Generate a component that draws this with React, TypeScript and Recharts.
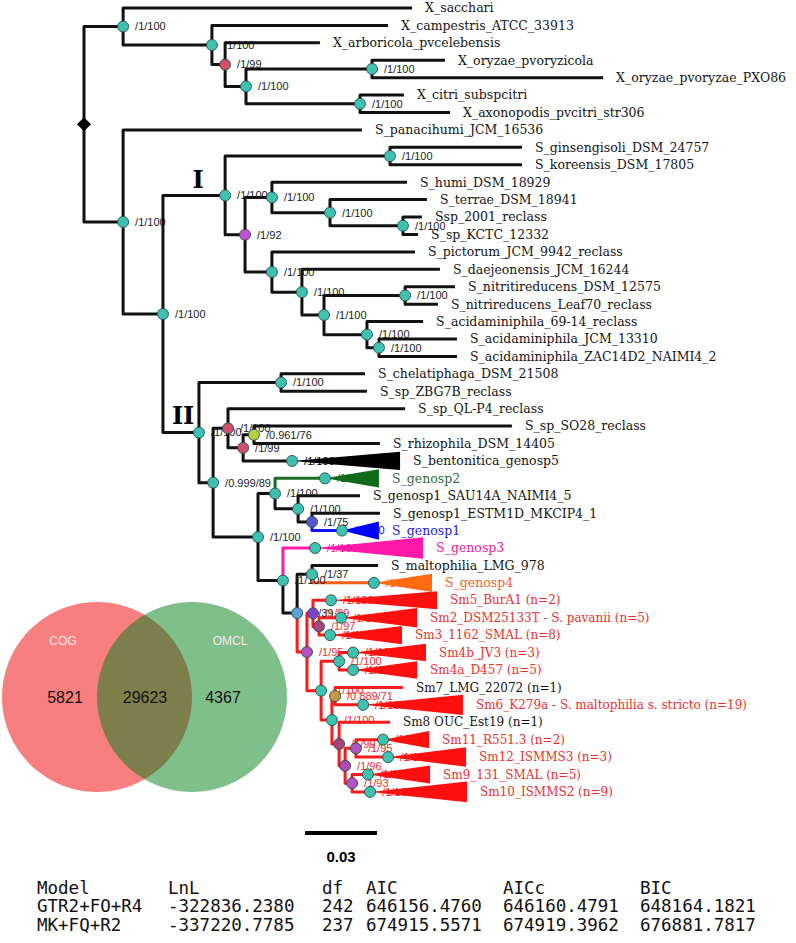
import React from 'react';
import { ComposedChart, Line, Area, Scatter, XAxis, YAxis, PieChart, Pie, Cell } from 'recharts';

// ---------------- data ----------------
// internal nodes: id, parent, depth (subst./site), support, node colour key, branch colour key
const internalNodes: [string, string, number, string, string, string][] = [
  ['R', '', 0, '', 'root', 'k'],
  ['NX', 'R', 0.0163, '/1/100', 't', 'k'],
  ['N2', 'NX', 0.0533, '/1/100', 't', 'k'],
  ['N3', 'N2', 0.0588, '/1/99', 'rd', 'k'],
  ['N4', 'N3', 0.0675, '/1/100', 't', 'k'],
  ['N5', 'N4', 0.12, '/1/100', 't', 'k'],
  ['N6', 'N4', 0.115, '/1/100', 't', 'k'],
  ['NS', 'R', 0.0163, '/1/100', 't', 'k'],
  ['N7', 'NS', 0.0329, '/1/100', 't', 'k'],
  ['NI', 'N7', 0.0588, '/1/100', 't', 'k'],
  ['N8', 'NI', 0.1275, '/1/100', 't', 'k'],
  ['N9', 'NI', 0.0671, '/1/92', 'pu', 'k'],
  ['N10', 'N9', 0.0783, '/1/100', 't', 'k'],
  ['N12', 'N10', 0.1025, '/1/100', 't', 'k'],
  ['N13', 'N12', 0.1329, '/1/100', 't', 'k'],
  ['N11', 'N9', 0.0783, '/1/100', 't', 'k'],
  ['N14', 'N11', 0.0908, '/1/100', 't', 'k'],
  ['N15', 'N14', 0.1, '/1/100', 't', 'k'],
  ['N16', 'N15', 0.1338, '/1/100', 't', 'k'],
  ['N17', 'N15', 0.1179, '/1/100', 't', 'k'],
  ['N18', 'N17', 0.1229, '/1/100', 't', 'k'],
  ['NII', 'N7', 0.0479, '/1/100', 't', 'k'],
  ['N19', 'NII', 0.0821, '/1/100', 't', 'k'],
  ['N20', 'NII', 0.0538, '/0.999/89', 't', 'k'],
  ['N21', 'N20', 0.06, '/1/100', 'rd', 'k'],
  ['N23', 'N21', 0.0663, '/1/99', 'rd', 'k'],
  ['N24', 'N23', 0.0708, '/0.961/76', 'yg', 'k'],
  ['N22', 'N20', 0.0725, '/1/100', 't', 'k'],
  ['N25', 'N22', 0.0796, '/1/100', 't', 'k'],
  ['N27', 'N25', 0.0892, '/1/100', 't', 'k'],
  ['N28', 'N27', 0.095, '/1/75', 'sb', 'k'],
  ['N26', 'N22', 0.0829, '/1/100', 't', 'k'],
  ['N29', 'N26', 0.0888, '/1/39', 'st', 'k'],
  ['N30', 'N29', 0.095, '/1/37', 't', 'k'],
  ['N31', 'N29', 0.0929, '/1/95', 'pu2', 'r'],
  ['N32', 'N31', 0.0954, '/1/89', 'vi', 'r'],
  ['N34', 'N32', 0.0979, '/1/97', 'dm', 'r'],
  ['N33', 'N31', 0.0988, '/1/100', 't', 'r'],
  ['N35', 'N33', 0.1063, '/1/100', 't', 'r'],
  ['N36', 'N33', 0.1033, '/1/100', 't', 'r'],
  ['N37', 'N36', 0.1046, '/0.889/71', 'br', 'r'],
  ['N38', 'N36', 0.1063, '/1/99', 'dm', 'r'],
  ['N39', 'N38', 0.1088, '/1/96', 'mg', 'r'],
  ['N40', 'N39', 0.1133, '/1/95', 'pu2', 'r'],
  ['N41', 'N39', 0.1117, '/1/93', 'pu2', 'r'],
];

const leafNames = [
  'X_sacchari', 'X_campestris_ATCC_33913', 'X_arboricola_pvcelebensis', 'X_oryzae_pvoryzicola',
  'X_oryzae_pvoryzae_PXO86', 'X_citri_subspcitri', 'X_axonopodis_pvcitri_str306', 'S_panacihumi_JCM_16536',
  'S_ginsengisoli_DSM_24757', 'S_koreensis_DSM_17805', 'S_humi_DSM_18929', 'S_terrae_DSM_18941',
  'Ssp_2001_reclass', 'S_sp_KCTC_12332', 'S_pictorum_JCM_9942_reclass', 'S_daejeonensis_JCM_16244',
  'S_nitritireducens_DSM_12575', 'S_nitrireducens_Leaf70_reclass', 'S_acidaminiphila_69-14_reclass',
  'S_acidaminiphila_JCM_13310', 'S_acidaminiphila_ZAC14D2_NAIMI4_2', 'S_chelatiphaga_DSM_21508',
  'S_sp_ZBG7B_reclass', 'S_sp_QL-P4_reclass', 'S_sp_SO28_reclass', 'S_rhizophila_DSM_14405',
  'S_bentonitica_genosp5', 'S_genosp2', 'S_genosp1_SAU14A_NAIMI4_5', 'S_genosp1_ESTM1D_MKCIP4_1',
  'S_genosp1', 'S_genosp3', 'S_maltophilia_LMG_978', 'S_genosp4', 'Sm5_BurA1 (n=2)',
  'Sm2_DSM25133T - S. pavanii (n=5)', 'Sm3_1162_SMAL (n=8)', 'Sm4b_JV3 (n=3)', 'Sm4a_D457 (n=5)',
  'Sm7_LMG_22072 (n=1)', 'Sm6_K279a - S. maltophilia s. stricto (n=19)', 'Sm8 OUC_Est19 (n=1)',
  'Sm11_R551.3 (n=2)', 'Sm12_ISMMS3 (n=3)', 'Sm9_131_SMAL (n=5)', 'Sm10_ISMMS2 (n=9)',
];
const leafParents = [
  'NX', 'N2', 'N3', 'N5', 'N5', 'N6', 'N6', 'NS', 'N8', 'N8', 'N10', 'N12', 'N13', 'N13', 'N11', 'N14',
  'N16', 'N16', 'N17', 'N18', 'N18', 'N19', 'N19', 'N21', 'N24', 'N24', 'N23', 'N25', 'N27', 'N28',
  'N28', 'N26', 'N30', 'N30', 'N32', 'N34', 'N34', 'N35', 'N35', 'N37', 'N37', 'N38', 'N40', 'N40',
  'N41', 'N41',
];
// depth of the collapsed-clade node (null = single taxon)
const leafApex: (number | null)[] = [
  null, null, null, null, null, null, null, null, null, null, null, null, null, null, null, null,
  null, null, null, null, null, null, null, null, null, null, 0.0867, 0.1004, null, null,
  0.1075, 0.0963, null, 0.1208, 0.1029, 0.1071, 0.1025, 0.1121, 0.1121, null, 0.1163, null,
  0.1246, 0.1267, 0.1183, 0.1192,
];
const leafTips = [
  0.1367, 0.1267, 0.0983, 0.1504, 0.2163, 0.1333, 0.1525, 0.1158, 0.1825, 0.1825, 0.1346, 0.1429,
  0.1408, 0.1392, 0.1379, 0.1483, 0.1546, 0.1475, 0.1413, 0.1554, 0.1554, 0.1171, 0.1179, 0.1338,
  0.1783, 0.1233, 0.1317, 0.1229, 0.115, 0.1233, 0.1229, 0.1413, 0.1225, 0.145, 0.1471, 0.1388,
  0.1325, 0.1425, 0.1388, 0.1329, 0.1579, 0.1275, 0.1438, 0.1592, 0.1442, 0.1596,
];
// half height of the collapsed triangles (in taxon rows)
const leafHalf = [
  0, 0, 0, 0, 0, 0, 0, 0, 0, 0, 0, 0, 0, 0, 0, 0, 0, 0, 0, 0, 0, 0, 0, 0, 0, 0,
  0.52, 0.52, 0, 0, 0.52, 0.62, 0, 0.52, 0.52, 0.56, 0.52, 0.5, 0.5, 0, 0.58, 0, 0.5, 0.56, 0.52, 0.6,
];
const leafBranch = [
  'k', 'k', 'k', 'k', 'k', 'k', 'k', 'k', 'k', 'k', 'k', 'k', 'k', 'k', 'k', 'k', 'k', 'k', 'k', 'k',
  'k', 'k', 'k', 'k', 'k', 'k', 'k', 'g', 'k', 'k', 'b', 'm', 'k', 'o', 'r', 'r', 'r', 'r', 'r', 'r',
  'r', 'r', 'r', 'r', 'r', 'r',
];
const leafLabel = [
  'k', 'k', 'k', 'k', 'k', 'k', 'k', 'k', 'k', 'k', 'k', 'k', 'k', 'k', 'k', 'k', 'k', 'k', 'k', 'k',
  'k', 'k', 'k', 'k', 'k', 'k', 'k', 'g', 'k', 'k', 'b', 'm', 'k', 'o', 'r', 'r', 'r', 'r', 'r', 'k',
  'r', 'k', 'r', 'r', 'r', 'r',
];
const apexSupport = '/1/100';

const groupLabels = ['I', 'II'];
const groupX = [0.0475, 0.0413];
const groupY = [9.87, 23.42];

const scaleBarLength = 0.03;
const scaleBarStart = 0.0921;
const scaleBarRow = 47.36;
const scaleLabelRow = 48.74;

const vennSets = ['COG', 'OMCL'];
const vennCounts = [5821, 29623, 4367];

const tableHeader = ['Model', 'LnL', 'df', 'AIC', 'AICc', 'BIC'];
const tableRows = [
  ['GTR2+FO+R4', '-322836.2380', '242', '646156.4760', '646160.4791', '648164.1821'],
  ['MK+FQ+R2', '-337220.7785', '237', '674915.5571', '674919.3962', '676881.7817'],
];

// ---------------- styles ----------------
const W = 796;
const H = 943;
const PX_PER_UNIT = 2400;
const ROOT_PX = 84;
const ROW_TOP = 8;
const ROW_STEP = 17.42;
const X_DOMAIN: [number, number] = [-ROOT_PX / PX_PER_UNIT, (W - ROOT_PX) / PX_PER_UNIT];
const Y_DOMAIN: [number, number] = [-ROW_TOP / ROW_STEP, (H - ROW_TOP) / ROW_STEP];

const branchColors: Record<string, string> = {
  k: '#111111', g: '#1d6b22', b: '#1010f5', m: '#ff1aa8', o: '#f2601a', r: '#f81c1c',
};
const triColors: Record<string, string> = {
  k: '#000000', g: '#0f6a1a', b: '#0000ff', m: '#ff19a8', o: '#ff6a10', r: '#ff1010',
};
const labelColors: Record<string, string> = {
  k: '#141414', g: '#2f6e34', b: '#1a1ae6', m: '#e8199c', o: '#f0641e', r: '#e8302c',
};
const nodeColors: Record<string, string> = {
  t: '#3fc1b2', rd: '#d24f68', pu: '#c24fd2', yg: '#b6d23c', sb: '#5757c9', st: '#5aa3d8',
  vi: '#7e44c6', pu2: '#b552c4', dm: '#a8447a', br: '#c69845', mg: '#b24ab4',
};

// ---------------- tree layout ----------------
type TNode = {
  id: string; parent: string; x: number; y: number; leaf: boolean; children: string[];
  support?: string; fillKey?: string; branchKey: string; name?: string; labelKey?: string;
  tip?: number; hh?: number; apex?: number | null;
};

function buildTree() {
  const nodes: Record<string, TNode> = {};
  internalNodes.forEach(([id, parent, x, support, fillKey, branchKey]) => {
    nodes[id] = { id, parent, x, y: NaN, leaf: false, children: [], support, fillKey, branchKey };
  });
  leafNames.forEach((name, i) => {
    const id = 'L' + i;
    nodes[id] = {
      id, parent: leafParents[i], x: leafApex[i] ?? leafTips[i], y: i, leaf: true, children: [],
      branchKey: leafBranch[i], name, labelKey: leafLabel[i], tip: leafTips[i], hh: leafHalf[i], apex: leafApex[i],
    };
  });
  Object.values(nodes).forEach((n) => {
    if (n.parent) nodes[n.parent].children.push(n.id);
  });
  const setY = (id: string): number => {
    const n = nodes[id];
    if (n.leaf) return n.y;
    const ys = n.children.map(setY);
    n.y = (Math.min(...ys) + Math.max(...ys)) / 2;
    return n.y;
  };
  setY('R');
  return nodes;
}

const tree = buildTree();
const allNodes = Object.values(tree);

const branchSeries: Record<string, any[]> = {};
allNodes.forEach((n) => {
  if (!n.parent) return;
  const p = tree[n.parent];
  const arr = (branchSeries[n.branchKey] = branchSeries[n.branchKey] || []);
  arr.push({ x: p.x, y: p.y }, { x: p.x, y: n.y }, { x: n.x, y: n.y }, { x: n.x, y: null });
});

const triSeries: Record<string, any[]> = {};
allNodes.forEach((n) => {
  if (!n.leaf || n.apex == null) return;
  const arr = (triSeries[n.branchKey] = triSeries[n.branchKey] || []);
  arr.push(
    { x: n.apex, r: [n.y, n.y] },
    { x: n.tip, r: [n.y - (n.hh || 0.5), n.y + (n.hh || 0.5)] },
    { x: n.tip, r: null },
  );
});

const nodeDots = allNodes
  .filter((n) => (!n.leaf && n.parent) || (n.leaf && n.apex != null))
  .map((n) => ({ x: n.x, y: n.y, fill: n.leaf ? nodeColors.t : nodeColors[n.fillKey || 't'] }));
const rootDot = [{ x: tree.R.x, y: tree.R.y }];

const supportLabels = allNodes
  .filter((n) => (!n.leaf && n.parent) || (n.leaf && n.apex != null))
  .map((n) => ({
    x: n.x, y: n.y,
    text: n.leaf ? apexSupport : n.support,
    color: n.leaf ? triColors[n.branchKey] : n.branchKey === 'r' ? labelColors.r : '#1a1a1a',
  }));

const leafLabels = allNodes
  .filter((n) => n.leaf)
  .map((n) => ({ x: n.tip, y: n.y, text: n.name, color: labelColors[n.labelKey || 'k'], sm: (n.name || '').startsWith('Sm') }));

const groupData = groupLabels.map((t, i) => ({ x: groupX[i], y: groupY[i], text: t }));
const scaleBar = [
  { x: scaleBarStart, y: scaleBarRow },
  { x: scaleBarStart + scaleBarLength, y: scaleBarRow },
];
const scaleLabel = [{ x: scaleBarStart + scaleBarLength / 2, y: scaleLabelRow, text: String(scaleBarLength) }];

const SERIF = '"DejaVu Serif", serif';
const SANS = '"Liberation Sans", Arial, sans-serif';

const NodeShape = (p: any) => (
  <circle cx={p.cx} cy={p.cy} r={5.5} fill={p.payload.fill} stroke="#24504c" strokeWidth={0.9} />
);
const RootShape = (p: any) => (
  <polygon points={`${p.cx - 7},${p.cy} ${p.cx},${p.cy - 7} ${p.cx + 7},${p.cy} ${p.cx},${p.cy + 7}`} fill="#000" />
);
const SupportShape = (p: any) => (
  <text x={p.cx + 12} y={p.cy} dy="0.35em" fontFamily={SANS} fontSize={11} fill={p.payload.color}>
    {p.payload.text}
  </text>
);
const LeafShape = (p: any) => (
  <text x={p.cx + 13} y={p.cy} dy="0.35em" fontFamily={SERIF} fontSize={p.payload.sm ? 12 : 12.5} fill={p.payload.color}>
    {p.payload.text}
  </text>
);
const GroupShape = (p: any) => (
  <text x={p.cx} y={p.cy} dy="0.35em" textAnchor="middle" fontFamily={SERIF} fontWeight="bold" fontSize={24} fill="#000">
    {p.payload.text}
  </text>
);
const ScaleShape = (p: any) => (
  <text x={p.cx} y={p.cy} dy="0.35em" textAnchor="middle" fontFamily={SANS} fontWeight="bold" fontSize={15} fill="#000">
    {p.payload.text}
  </text>
);

const tableCols = [37, 168, 322, 366, 503, 640];
const tableRowsY = [888, 906, 925];

export default function App() {
  const branchKeys = Object.keys(branchSeries);
  const triKeys = Object.keys(triSeries);
  const vennBoxTop = 595;
  return (
    <div style={{ position: 'absolute', left: 0, top: 0, width: W, height: H, background: '#fff' }}>
      <div style={{ position: 'absolute', left: 0, top: 0 }}>
        <ComposedChart width={W} height={H} margin={{ top: 0, right: 0, bottom: 0, left: 0 }}>
          <XAxis type="number" dataKey="x" domain={X_DOMAIN} allowDataOverflow hide />
          <YAxis type="number" dataKey="y" domain={Y_DOMAIN} allowDataOverflow hide reversed />
          {branchKeys.map((k) => (
            <Line
              key={'br' + k}
              data={branchSeries[k]}
              dataKey="y"
              type="linear"
              stroke={branchColors[k]}
              strokeWidth={3}
              strokeLinejoin="round"
              dot={false}
              activeDot={false}
              connectNulls={false}
              isAnimationActive={false}
            />
          ))}
          <Line data={scaleBar} dataKey="y" type="linear" stroke="#000" strokeWidth={4} dot={false} activeDot={false} isAnimationActive={false} />
          <Scatter data={supportLabels} shape={SupportShape} isAnimationActive={false} />
          {triKeys.map((k) => (
            <Area
              key={'tri' + k}
              data={triSeries[k]}
              dataKey="r"
              type="linear"
              stroke="none"
              fill={triColors[k]}
              fillOpacity={1}
              connectNulls={false}
              dot={false}
              activeDot={false}
              isAnimationActive={false}
            />
          ))}
          <Scatter data={nodeDots} shape={NodeShape} isAnimationActive={false} />
          <Scatter data={rootDot} shape={RootShape} isAnimationActive={false} />
          <Scatter data={leafLabels} shape={LeafShape} isAnimationActive={false} />
          <Scatter data={groupData} shape={GroupShape} isAnimationActive={false} />
          <Scatter data={scaleLabel} shape={ScaleShape} isAnimationActive={false} />
        </ComposedChart>
      </div>

      <div style={{ position: 'absolute', left: 0, top: vennBoxTop }}>
        <PieChart width={300} height={210} margin={{ top: 0, right: 0, bottom: 0, left: 0 }}>
          <Pie data={[{ name: vennSets[0], value: vennCounts[0] + vennCounts[1] }]} dataKey="value" cx={97} cy={102}
            outerRadius={95} innerRadius={0} startAngle={90} endAngle={450} stroke="none" isAnimationActive={false} label={false}>
            <Cell fill="#f20000" fillOpacity={0.5} />
          </Pie>
          <Pie data={[{ name: vennSets[1], value: vennCounts[1] + vennCounts[2] }]} dataKey="value" cx={192} cy={102}
            outerRadius={95} innerRadius={0} startAngle={90} endAngle={450} stroke="none" isAnimationActive={false} label={false}>
            <Cell fill="#00801a" fillOpacity={0.5} />
          </Pie>
        </PieChart>
      </div>
      {vennSets.map((s, i) => (
        <div key={s} style={{ position: 'absolute', left: (i === 0 ? 63 : 230) - 50, top: 641 - 8, width: 100, height: 16, lineHeight: '16px', textAlign: 'center', fontFamily: SANS, fontSize: 12, color: '#fbe6e6' }}>
          {s}
        </div>
      ))}
      {vennCounts.map((c, i) => (
        <div key={'vc' + i} style={{ position: 'absolute', left: [65, 145, 223][i] - 50, top: 698 - 10, width: 100, height: 20, lineHeight: '20px', textAlign: 'center', fontFamily: SANS, fontSize: 16, color: '#111' }}>
          {c}
        </div>
      ))}

      {[tableHeader, ...tableRows].map((row, r) =>
        row.map((cell, c) => (
          <div key={r + '-' + c} style={{ position: 'absolute', left: tableCols[c], top: tableRowsY[r] - 11, height: 22, lineHeight: '22px', fontFamily: '"DejaVu Sans Mono", monospace', fontSize: 17.5, color: '#111', whiteSpace: 'pre' }}>
            {cell}
          </div>
        )),
      )}
    </div>
  );
}
